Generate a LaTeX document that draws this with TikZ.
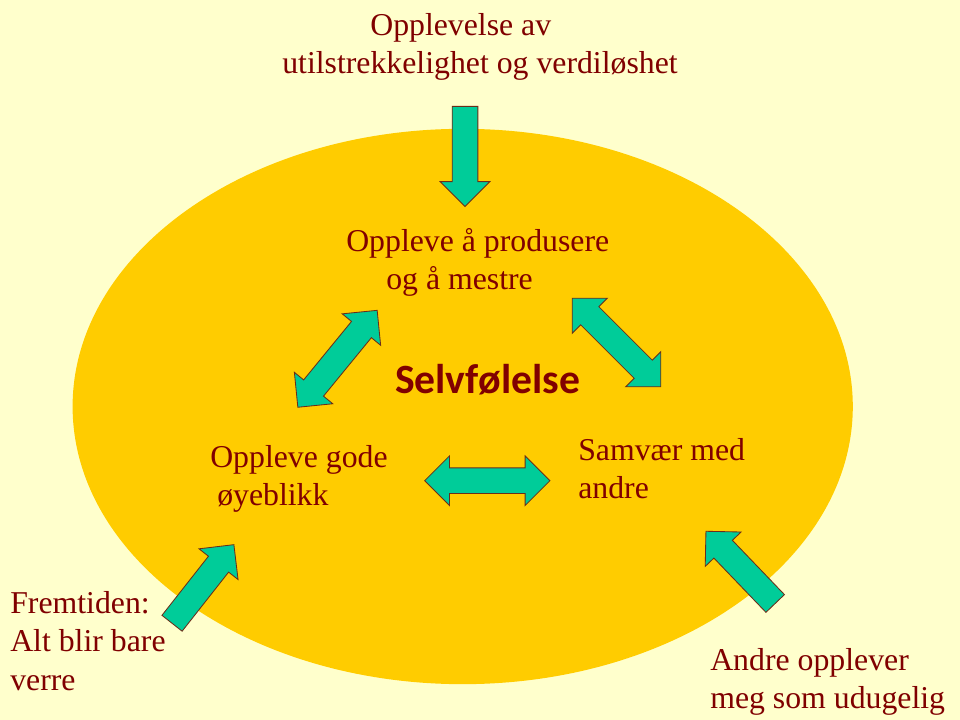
\documentclass[tikz,border=0pt]{standalone}
\usepackage{fontspec}
\setmainfont{Liberation Serif}
\newfontfamily\calibri{Carlito}
\usetikzlibrary{shapes.arrows}
\definecolor{bgyellow}{HTML}{FFFFCC}
\definecolor{discfill}{HTML}{FFCC00}
\definecolor{arrowfill}{HTML}{00CC99}
\definecolor{arrowline}{HTML}{6B2D1A}
\definecolor{textred}{HTML}{800000}
\begin{document}
\begin{tikzpicture}[x=0.025cm, y=-0.025cm]
        \tikzstyle{txt} = [text=textred, font=\fontsize{22.6}{27.4}\selectfont, align=left, anchor=north west, inner sep=0]
        \tikzstyle{onearrow} = [single arrow, draw=arrowline, fill=arrowfill, line width=0.6pt, inner xsep=0, inner ysep=0.31cm, minimum height=2.5cm, single arrow head extend=0.3cm, single arrow tip angle=90]
        \tikzstyle{twoarrow} = [double arrow, draw=arrowline, fill=arrowfill, line width=0.6pt, inner xsep=0, inner ysep=0.31cm, minimum height=3.13cm, double arrow head extend=0.3cm, double arrow tip angle=90]
        \fill[bgyellow] (0,0) rectangle (960,720);
        \useasboundingbox (0,0) rectangle (960,720);
        \fill[discfill] (462.7,406.5) ellipse [x radius=9.75cm, y radius=6.94cm];

        \node[txt] (verdi) at (282,13) {\hspace*{2.2cm}Opplevelse av\\utilstrekkelighet og verdiløshet};
        \node[txt] (mestre) at (346,228) {Oppleve å produsere\\\hspace*{1cm}og å mestre};
        \node[text=textred, font=\calibri\bfseries\fontsize{29.6}{35}\selectfont, anchor=base, inner sep=0] (selv) at (487.5,394) {Selvfølelse};
        \node[txt] (gode) at (210,445) {Oppleve gode\\\hspace*{0.175cm}øyeblikk};
        \node[txt] (samvaer) at (578,438) {Samvær med\\andre};
        \node[txt] (fremtid) at (10,591) {Fremtiden:\\Alt blir bare\\verre};
        \node[txt] (udugelig) at (710,648) {Andre opplever\\meg som udugelig};

        \node[onearrow, rotate=-90] (ned) at (465,150) {};
        \node[onearrow, rotate=51.8] (opp1) at (199,589) {};
        \node[onearrow, rotate=133.8] (opp2) at (745,572) {};
        \node[twoarrow] (midt) at (487.3,480.7) {};
        \node[twoarrow, rotate=50.7] (venstre) at (337.5,358.8) {};
        \node[twoarrow, rotate=-45] (hoyre) at (616.5,342.5) {};
\end{tikzpicture}
\end{document}
